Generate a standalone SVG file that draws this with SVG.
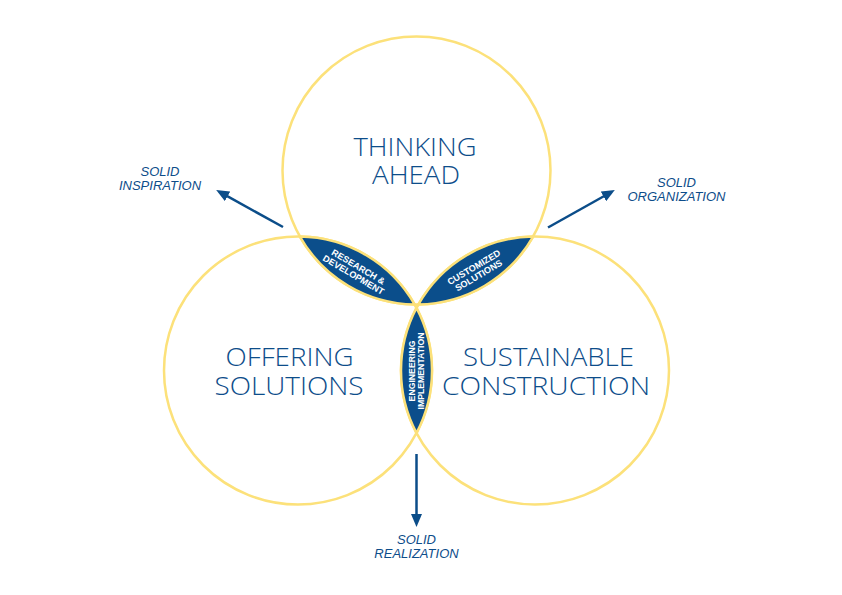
<svg xmlns="http://www.w3.org/2000/svg" width="842" height="595" viewBox="0 0 842 595">
<defs>
<style>
.ring{fill:none;stroke:#fce17a;stroke-width:2.5}
.lens{fill:#0b4e8b;stroke:#fce17a;stroke-width:2.5}
.title{font-family:"Open Sans","Liberation Sans",Arial,sans-serif;font-size:25px;font-weight:300;fill:#0d4d8a;text-anchor:middle}
.lt{font-family:"Liberation Sans",Arial,sans-serif;font-size:9.1px;font-weight:bold;fill:#ffffff;text-anchor:middle}
.lv{font-family:"Liberation Sans",Arial,sans-serif;font-size:8.7px;font-weight:bold;fill:#ffffff;text-anchor:middle}
.out{font-family:"Liberation Sans",Arial,sans-serif;font-size:13px;font-style:italic;fill:#0d4d8a;text-anchor:middle}
.arr{stroke:#0b4d89;stroke-width:2.5;fill:none}
</style>
<marker id="ah" markerUnits="userSpaceOnUse" markerWidth="13" markerHeight="11" refX="6" refY="5.5" orient="auto">
<path d="M0,0 L13,5.5 L0,11 Z" fill="#0b4d89"/>
</marker>
</defs>
<rect width="842" height="595" fill="#ffffff"/>
<g id="circle-thinking">
<circle class="ring" cx="416.5" cy="170.5" r="134"/>
</g>
<g id="circle-offering">
<circle class="ring" cx="298" cy="370.5" r="134"/>
</g>
<g id="circle-sustainable">
<circle class="ring" cx="535" cy="370.5" r="134"/>
</g>
<g id="lens-research">
<path class="lens" d="M299.89,236.52 A134,134 0 0 0 414.61,304.48 A134,134 0 0 0 299.89,236.52 Z"/>
<g transform="translate(357.25,270.5) rotate(30.6)">
<text class="lt" x="-1" y="-0.6">RESEARCH &amp;</text>
<text class="lt" x="-1" y="8.8">DEVELOPMENT</text>
</g>
</g>
<g id="lens-customized">
<path class="lens" d="M533.11,236.52 A134,134 0 0 1 418.39,304.48 A134,134 0 0 1 533.11,236.52 Z"/>
<g transform="translate(475.75,270.5) rotate(-30.6)">
<text class="lt" x="0" y="-0.6">CUSTOMIZED</text>
<text class="lt" x="0" y="8.8">SOLUTIONS</text>
</g>
</g>
<g id="lens-engineering">
<path class="lens" d="M416.5,307.94 A134,134 0 0 1 416.5,433.06 A134,134 0 0 1 416.5,307.94 Z"/>
<g transform="translate(416.5,371) rotate(-90)">
<text class="lv" x="0" y="-1.4">ENGINEERING</text>
<text class="lv" x="0" y="7.1">IMPLEMENTATION</text>
</g>
</g>
<g id="label-thinking">
<text class="title" x="415" y="156" textLength="123" lengthAdjust="spacingAndGlyphs">THINKING</text>
<text class="title" x="416" y="184" textLength="88" lengthAdjust="spacingAndGlyphs">AHEAD</text>
</g>
<g id="label-offering">
<text class="title" x="289.5" y="366" textLength="128" lengthAdjust="spacingAndGlyphs">OFFERING</text>
<text class="title" x="289" y="395" textLength="149" lengthAdjust="spacingAndGlyphs">SOLUTIONS</text>
</g>
<g id="label-sustainable">
<text class="title" x="548.5" y="366" textLength="171" lengthAdjust="spacingAndGlyphs">SUSTAINABLE</text>
<text class="title" x="546" y="395" textLength="208" lengthAdjust="spacingAndGlyphs">CONSTRUCTION</text>
</g>
<g id="connectors">
<line class="arr" x1="283" y1="227" x2="222.3" y2="193.4" marker-end="url(#ah)"/>
<line class="arr" x1="548" y1="227.5" x2="608.7" y2="193.5" marker-end="url(#ah)"/>
<line class="arr" x1="416.5" y1="454" x2="416.5" y2="520" marker-end="url(#ah)"/>
</g>
<g id="out-inspiration">
<text class="out" x="160" y="175.5">SOLID</text>
<text class="out" x="160" y="190">INSPIRATION</text>
</g>
<g id="out-organization">
<text class="out" x="676.5" y="186.5">SOLID</text>
<text class="out" x="676.5" y="201">ORGANIZATION</text>
</g>
<g id="out-realization">
<text class="out" x="416.5" y="543.5">SOLID</text>
<text class="out" x="416.5" y="558">REALIZATION</text>
</g>
</svg>
